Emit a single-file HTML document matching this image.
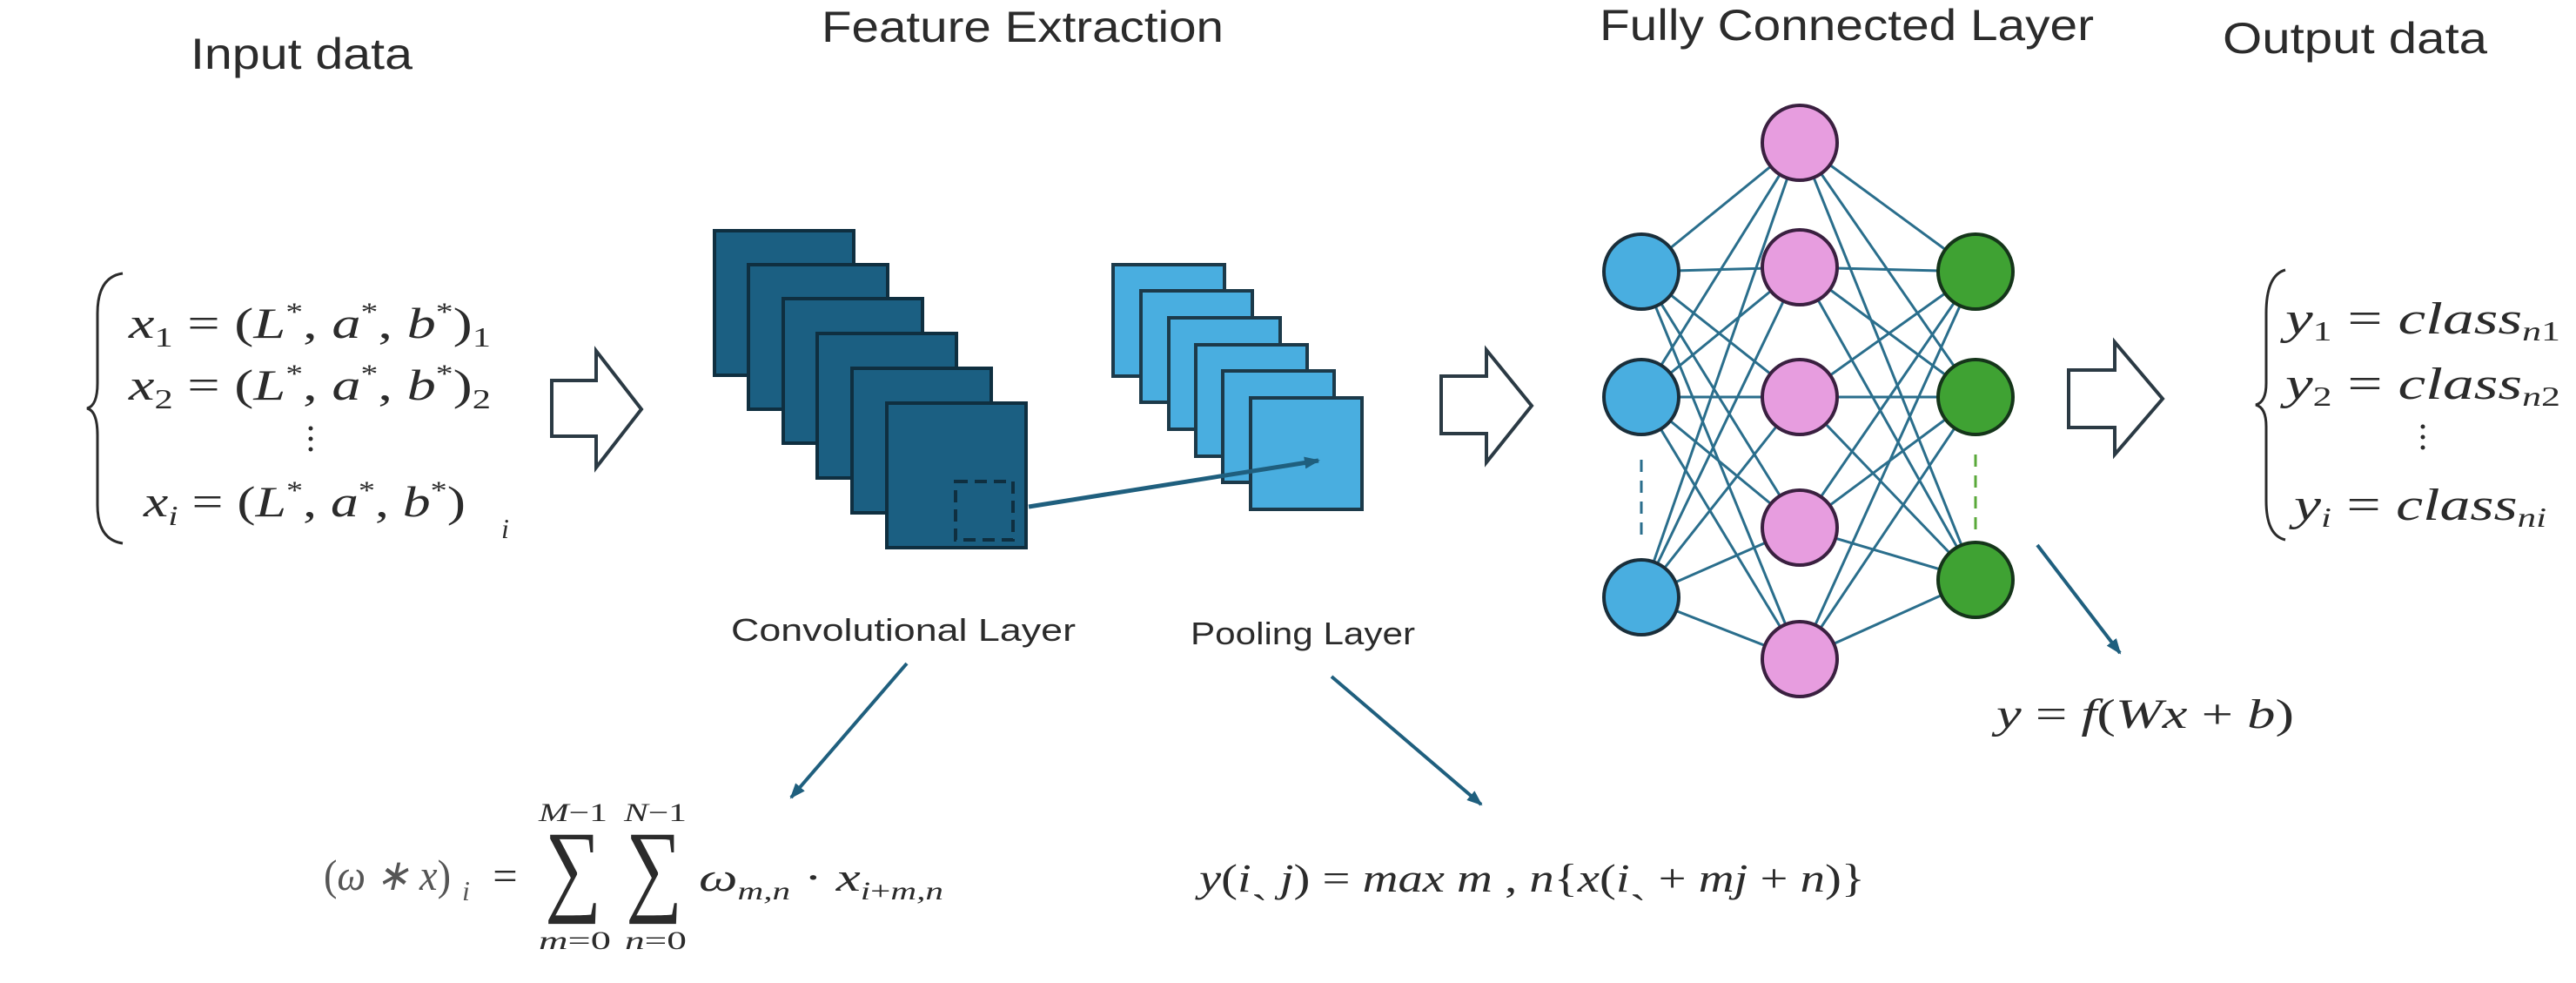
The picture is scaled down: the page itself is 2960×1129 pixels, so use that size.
<!DOCTYPE html>
<html><head><meta charset="utf-8"><style>
html,body{margin:0;padding:0;background:#fff;width:2960px;height:1129px;overflow:hidden}
svg{display:block}
.t{font-family:"Liberation Sans",sans-serif;fill:#2b2b2b}
.m{font-family:"Liberation Serif",serif;font-style:italic;fill:#2b2b2b}
</style></head><body>
<svg width="2960" height="1129" viewBox="0 0 2960 1129" xmlns="http://www.w3.org/2000/svg">
<defs>
<marker id="ah2" markerWidth="18" markerHeight="14" refX="16" refY="7" orient="auto" markerUnits="userSpaceOnUse">
<path d="M0,0 L18,7 L0,14 z" fill="#1f5f7e"/></marker>
</defs>

<!-- Titles -->
<text class="t" x="219" y="79" font-size="50" textLength="255" lengthAdjust="spacingAndGlyphs">Input data</text>
<text class="t" x="944" y="48" font-size="50" textLength="462" lengthAdjust="spacingAndGlyphs">Feature Extraction</text>
<text class="t" x="1838" y="46" font-size="50" textLength="568" lengthAdjust="spacingAndGlyphs">Fully Connected Layer</text>
<text class="t" x="2554" y="61" font-size="50" textLength="304" lengthAdjust="spacingAndGlyphs">Output data</text>

<!-- Input eqs -->
<path d="M141,314 Q112,318 112,360 L112,440 Q112,466 100,469 Q112,472 112,500 L112,580 Q112,620 141,624" fill="none" stroke="#2b2b2b" stroke-width="3"/>
<text class="m" x="148" y="388" font-size="50" textLength="416" lengthAdjust="spacingAndGlyphs">x<tspan font-size="32" dy="10" font-style="normal">1</tspan><tspan dy="-10" font-style="normal"> = (</tspan>L<tspan font-size="30" dy="-20" font-style="normal">*</tspan><tspan dy="20" font-style="normal">, </tspan>a<tspan font-size="30" dy="-20" font-style="normal">*</tspan><tspan dy="20" font-style="normal">, </tspan>b<tspan font-size="30" dy="-20" font-style="normal">*</tspan><tspan dy="20" font-style="normal">)</tspan><tspan font-size="32" dy="10" font-style="normal">1</tspan></text>
<text class="m" x="148" y="459" font-size="50" textLength="416" lengthAdjust="spacingAndGlyphs">x<tspan font-size="32" dy="10" font-style="normal">2</tspan><tspan dy="-10" font-style="normal"> = (</tspan>L<tspan font-size="30" dy="-20" font-style="normal">*</tspan><tspan dy="20" font-style="normal">, </tspan>a<tspan font-size="30" dy="-20" font-style="normal">*</tspan><tspan dy="20" font-style="normal">, </tspan>b<tspan font-size="30" dy="-20" font-style="normal">*</tspan><tspan dy="20" font-style="normal">)</tspan><tspan font-size="32" dy="10" font-style="normal">2</tspan></text>
<g fill="#2b2b2b"><circle cx="357" cy="492" r="2.5"/><circle cx="357" cy="504" r="2.5"/><circle cx="357" cy="516" r="2.5"/></g>
<text class="m" x="165" y="593" font-size="50" textLength="370" lengthAdjust="spacingAndGlyphs">x<tspan font-size="32" dy="10">i</tspan><tspan dy="-10" font-style="normal"> = (</tspan>L<tspan font-size="30" dy="-20" font-style="normal">*</tspan><tspan dy="20" font-style="normal">, </tspan>a<tspan font-size="30" dy="-20" font-style="normal">*</tspan><tspan dy="20" font-style="normal">, </tspan>b<tspan font-size="30" dy="-20" font-style="normal">*</tspan><tspan dy="20" font-style="normal">)</tspan></text>
<text class="m" x="576" y="618" font-size="32">i</text>

<!-- Hollow arrows -->
<g fill="#fff" stroke="#2b3a44" stroke-width="4" stroke-linejoin="miter">
<polygon points="634,437 685,437 685,403 737,470 685,537 685,501 634,501"/>
<polygon points="1656,432 1708,432 1708,402 1760,466 1708,531 1708,498 1656,498"/>
<polygon points="2377,425 2430,425 2430,393 2485,458 2430,522 2430,491 2377,491"/>
</g>

<!-- Conv squares -->
<g fill="#1b5f82" stroke="#0f2f40" stroke-width="4">
<rect x="821" y="265" width="160" height="166"/>
<rect x="860" y="304" width="160" height="166"/>
<rect x="900" y="343" width="160" height="166"/>
<rect x="939" y="383" width="160" height="166"/>
<rect x="979" y="423" width="160" height="166"/>
<rect x="1019" y="463" width="160" height="166"/>
</g>
<rect x="1098" y="553" width="66" height="67" fill="none" stroke="#0f2f40" stroke-width="4" stroke-dasharray="14,8"/>

<!-- Pool squares -->
<g fill="#49aee0" stroke="#1c3a4a" stroke-width="4">
<rect x="1279" y="304" width="128" height="128"/>
<rect x="1311" y="334" width="128" height="128"/>
<rect x="1343" y="365" width="128" height="128"/>
<rect x="1374" y="396" width="128" height="128"/>
<rect x="1405" y="426" width="128" height="128"/>
<rect x="1437" y="457" width="128" height="128"/>
</g>
<line x1="1182" y1="582" x2="1515" y2="529" stroke="#1f5f7e" stroke-width="5" marker-end="url(#ah2)"/>

<text class="t" x="840" y="736" font-size="36" textLength="396" lengthAdjust="spacingAndGlyphs">Convolutional Layer</text>
<text class="t" x="1368" y="740" font-size="36" textLength="258" lengthAdjust="spacingAndGlyphs">Pooling Layer</text>

<!-- Down arrows -->
<g stroke="#1f5f7e" stroke-width="4" fill="none">
<line x1="1042" y1="762" x2="909" y2="916" marker-end="url(#ah2)"/>
<line x1="1530" y1="777" x2="1702" y2="924" marker-end="url(#ah2)"/>
<line x1="2341" y1="626" x2="2436" y2="750" marker-end="url(#ah2)"/>
</g>

<!-- Network edges -->
<g stroke="#2a6e8c" stroke-width="3">
<line x1="1886" y1="312" x2="2068" y2="164"/><line x1="1886" y1="312" x2="2068" y2="307"/><line x1="1886" y1="312" x2="2068" y2="456"/><line x1="1886" y1="312" x2="2068" y2="606"/><line x1="1886" y1="312" x2="2068" y2="757"/>
<line x1="1886" y1="456" x2="2068" y2="164"/><line x1="1886" y1="456" x2="2068" y2="307"/><line x1="1886" y1="456" x2="2068" y2="456"/><line x1="1886" y1="456" x2="2068" y2="606"/><line x1="1886" y1="456" x2="2068" y2="757"/>
<line x1="1886" y1="686" x2="2068" y2="164"/><line x1="1886" y1="686" x2="2068" y2="307"/><line x1="1886" y1="686" x2="2068" y2="456"/><line x1="1886" y1="686" x2="2068" y2="606"/><line x1="1886" y1="686" x2="2068" y2="757"/>
<line x1="2270" y1="312" x2="2068" y2="164"/><line x1="2270" y1="312" x2="2068" y2="307"/><line x1="2270" y1="312" x2="2068" y2="456"/><line x1="2270" y1="312" x2="2068" y2="606"/><line x1="2270" y1="312" x2="2068" y2="757"/>
<line x1="2270" y1="456" x2="2068" y2="164"/><line x1="2270" y1="456" x2="2068" y2="307"/><line x1="2270" y1="456" x2="2068" y2="456"/><line x1="2270" y1="456" x2="2068" y2="606"/><line x1="2270" y1="456" x2="2068" y2="757"/>
<line x1="2270" y1="666" x2="2068" y2="164"/><line x1="2270" y1="666" x2="2068" y2="307"/><line x1="2270" y1="666" x2="2068" y2="456"/><line x1="2270" y1="666" x2="2068" y2="606"/><line x1="2270" y1="666" x2="2068" y2="757"/>
</g>
<line x1="1886" y1="528" x2="1886" y2="617" stroke="#2a6e8c" stroke-width="3" stroke-dasharray="14,10"/>
<line x1="2270" y1="522" x2="2270" y2="611" stroke="#5aa83a" stroke-width="3" stroke-dasharray="14,10"/>

<!-- Nodes -->
<g stroke="#1a2e3a" stroke-width="4">
<circle cx="1886" cy="312" r="43" fill="#49aee0"/>
<circle cx="1886" cy="456" r="43" fill="#49aee0"/>
<circle cx="1886" cy="686" r="43" fill="#49aee0"/>
<circle cx="2068" cy="164" r="43" fill="#e79ddf" stroke="#3a2040"/>
<circle cx="2068" cy="307" r="43" fill="#e79ddf" stroke="#3a2040"/>
<circle cx="2068" cy="456" r="43" fill="#e79ddf" stroke="#3a2040"/>
<circle cx="2068" cy="606" r="43" fill="#e79ddf" stroke="#3a2040"/>
<circle cx="2068" cy="757" r="43" fill="#e79ddf" stroke="#3a2040"/>
<circle cx="2270" cy="312" r="43" fill="#3fa233" stroke="#15351a"/>
<circle cx="2270" cy="456" r="43" fill="#3fa233" stroke="#15351a"/>
<circle cx="2270" cy="666" r="43" fill="#3fa233" stroke="#15351a"/>
</g>

<!-- Output eqs -->
<path d="M2626,310 Q2604,316 2604,360 L2604,440 Q2604,462 2592,465 Q2604,468 2604,490 L2604,575 Q2604,615 2626,620" fill="none" stroke="#2b2b2b" stroke-width="3"/>
<text class="m" x="2626" y="383" font-size="52" textLength="316" lengthAdjust="spacingAndGlyphs">y<tspan font-size="32" dy="8" font-style="normal">1</tspan><tspan dy="-8" font-style="normal"> = </tspan>class<tspan font-size="32" dy="8">n</tspan><tspan font-size="32" font-style="normal">1</tspan></text>
<text class="m" x="2626" y="458" font-size="52" textLength="316" lengthAdjust="spacingAndGlyphs">y<tspan font-size="32" dy="8" font-style="normal">2</tspan><tspan dy="-8" font-style="normal"> = </tspan>class<tspan font-size="32" dy="8">n</tspan><tspan font-size="32" font-style="normal">2</tspan></text>
<g fill="#2b2b2b"><circle cx="2784" cy="490" r="2.5"/><circle cx="2784" cy="502" r="2.5"/><circle cx="2784" cy="514" r="2.5"/></g>
<text class="m" x="2636" y="597" font-size="52" textLength="290" lengthAdjust="spacingAndGlyphs">y<tspan font-size="32" dy="8">i</tspan><tspan dy="-8" font-style="normal"> = </tspan>class<tspan font-size="32" dy="8">ni</tspan></text>

<text class="m" x="2294" y="836" font-size="48" textLength="342" lengthAdjust="spacingAndGlyphs">y<tspan font-style="normal"> = </tspan>f<tspan font-style="normal">(</tspan>Wx<tspan font-style="normal"> + </tspan>b<tspan font-style="normal">)</tspan></text>

<!-- Conv formula -->
<text class="m" x="372" y="1022" font-size="50" textLength="146" lengthAdjust="spacingAndGlyphs" style="fill:#555"><tspan font-style="normal">(</tspan>ω ∗ x<tspan font-style="normal">)</tspan></text>
<text class="m" x="531" y="1034" font-size="32" style="fill:#555">i</text>
<text class="m" x="563" y="1022" font-size="48" font-style="normal" textLength="34" lengthAdjust="spacingAndGlyphs">=</text>
<text class="m" x="619" y="943" font-size="30" textLength="79" lengthAdjust="spacingAndGlyphs">M<tspan font-style="normal">−1</tspan></text>
<text class="m" x="717" y="943" font-size="30" textLength="72" lengthAdjust="spacingAndGlyphs">N<tspan font-style="normal">−1</tspan></text>
<text x="626" y="1036" font-size="118" font-family="Liberation Serif, DejaVu Serif, serif" fill="#2b2b2b" textLength="65" lengthAdjust="spacingAndGlyphs">∑</text>
<text x="719" y="1036" font-size="118" font-family="Liberation Serif, DejaVu Serif, serif" fill="#2b2b2b" textLength="65" lengthAdjust="spacingAndGlyphs">∑</text>
<text class="m" x="619" y="1090" font-size="30" textLength="83" lengthAdjust="spacingAndGlyphs">m<tspan font-style="normal">=0</tspan></text>
<text class="m" x="718" y="1090" font-size="30" textLength="71" lengthAdjust="spacingAndGlyphs">n<tspan font-style="normal">=0</tspan></text>
<text class="m" x="803" y="1023" font-size="46" textLength="281" lengthAdjust="spacingAndGlyphs">ω<tspan font-size="30" dy="10">m,n</tspan><tspan dy="-10" font-style="normal"> · </tspan>x<tspan font-size="30" dy="10">i<tspan font-style="normal">+</tspan>m,n</tspan></text>

<!-- Pool formula -->
<text class="m" x="1378" y="1024" font-size="46" textLength="765" lengthAdjust="spacingAndGlyphs">y<tspan font-style="normal">(</tspan>i<tspan font-style="normal">ˏ </tspan>j<tspan font-style="normal">) = </tspan>max m <tspan font-style="normal">, </tspan>n<tspan font-style="normal">{</tspan>x<tspan font-style="normal">(</tspan>i<tspan font-style="normal">ˏ + </tspan>mj<tspan font-style="normal"> + </tspan>n<tspan font-style="normal">)}</tspan></text>
</svg>
</body></html>
